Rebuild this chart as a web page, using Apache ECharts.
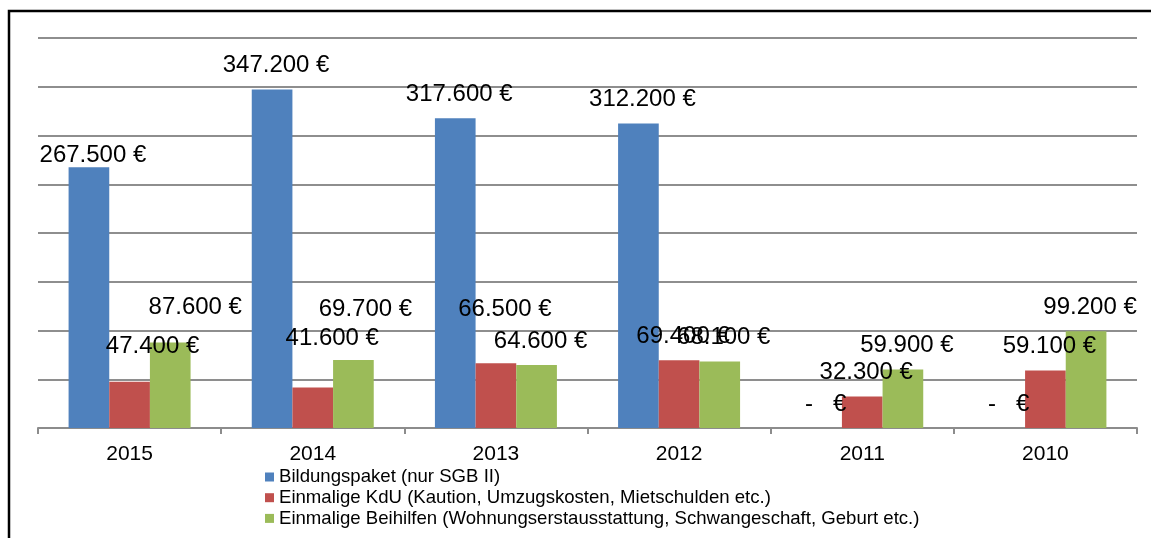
<!DOCTYPE html>
<html>
<head>
<meta charset="utf-8">
<title>Leistungen 2010–2015</title>
<script src="https://cdn.jsdelivr.net/npm/echarts@6/dist/echarts.min.js"></script>
<style>
  html, body { margin: 0; padding: 0; background: #ffffff; }
  #chart { width: 1151px; height: 538px; }
</style>
</head>
<body>
<div id="chart"></div>
<script>
// Jahre (Kategorien der x-Achse)
const years = ['2015', '2014', '2013', '2012', '2011', '2010'];

// Ausgaben je Leistungsart in Euro
const bildungspaket = [267500, 347200, 317600, 312200, 0, 0];
const einmaligeKdU = [47400, 41600, 66500, 69400, 32300, 59100];
const einmaligeBeihilfen = [87600, 69700, 64600, 68100, 59900, 99200];

// Namen der Datenreihen (Legende)
const seriesNames = [
  'Bildungspaket (nur SGB II)',
  'Einmalige KdU (Kaution, Umzugskosten, Mietschulden etc.)',
  'Einmalige Beihilfen (Wohnungserstausstattung, Schwangeschaft, Geburt etc.)'
];

// Werteachse
const yMax = 400000;
const yStep = 50000;

// Manuell verschobene Beschriftungen [dx, dy] je Balken
const labelNudge = [
  [[0, 12], [0, 0], [0, 0], [0, 0], [0, 0], [0, 0]],
  [[19, -11.5], [15.5, -25.5], [5, -29.5], [0, 0], [0, 0], [0, 0]],
  [[21, -11.5], [8, -27], [0, 0], [0, 0], [0, 0], [0, 0]]
];

const colors = ['#4F81BD', '#C0504D', '#9BBB59'];
const FONT = '"Liberation Sans", Arial, sans-serif';

function euro(v) {
  if (v === 0) return '-   €';
  return String(v).replace(/\B(?=(\d{3})+(?!\d))/g, '.') + ' €';
}

function buildSeries(name, values, nudges, color) {
  return {
    name: name,
    type: 'bar',
    barGap: '0%',
    barCategoryGap: '33.4%',
    itemStyle: { color: color },
    label: {
      show: true,
      position: 'top',
      distance: 12,
      offset: [4, 0],
      color: '#000',
      fontSize: 24,
      fontFamily: FONT,
      formatter: p => euro(p.value)
    },
    data: values.map((v, i) => ({
      value: v,
      label: { offset: [4 + nudges[i][0], nudges[i][1]] }
    }))
  };
}

const chart = echarts.init(document.getElementById('chart'), null, { renderer: 'canvas' });

chart.setOption({
  backgroundColor: '#ffffff',
  animation: false,
  color: colors,
  textStyle: { fontFamily: FONT },
  grid: { left: 38, right: 14, top: 38, bottom: 110, containLabel: false },
  legend: {
    orient: 'vertical',
    left: 260,
    top: 462,
    itemWidth: 9,
    itemHeight: 9,
    itemGap: 0.7,
    icon: 'rect',
    selectedMode: false,
    textStyle: {
      fontSize: 18.6,
      lineHeight: 20,
      color: '#000',
      fontFamily: FONT
    },
    data: seriesNames
  },
  xAxis: {
    type: 'category',
    data: years,
    axisLine: { show: true, lineStyle: { color: '#8c8c8c', width: 2 } },
    axisTick: { show: true, length: 6, lineStyle: { color: '#8c8c8c', width: 2 } },
    axisLabel: { color: '#000', fontSize: 21, margin: 16, fontFamily: FONT }
  },
  yAxis: {
    type: 'value',
    min: 0,
    max: yMax,
    interval: yStep,
    axisLine: { show: false },
    axisTick: { show: false },
    axisLabel: { show: false },
    splitLine: { show: true, lineStyle: { color: '#8e8e8e', width: 2 } }
  },
  graphic: [{
    type: 'rect',
    silent: true,
    z: 100,
    shape: { x: 9, y: 11, width: 1400, height: 800 },
    style: { fill: 'none', stroke: '#000', lineWidth: 2.5 }
  }],
  series: [
    buildSeries(seriesNames[0], bildungspaket, labelNudge[0], colors[0]),
    buildSeries(seriesNames[1], einmaligeKdU, labelNudge[1], colors[1]),
    buildSeries(seriesNames[2], einmaligeBeihilfen, labelNudge[2], colors[2])
  ]
});
</script>
</body>
</html>
